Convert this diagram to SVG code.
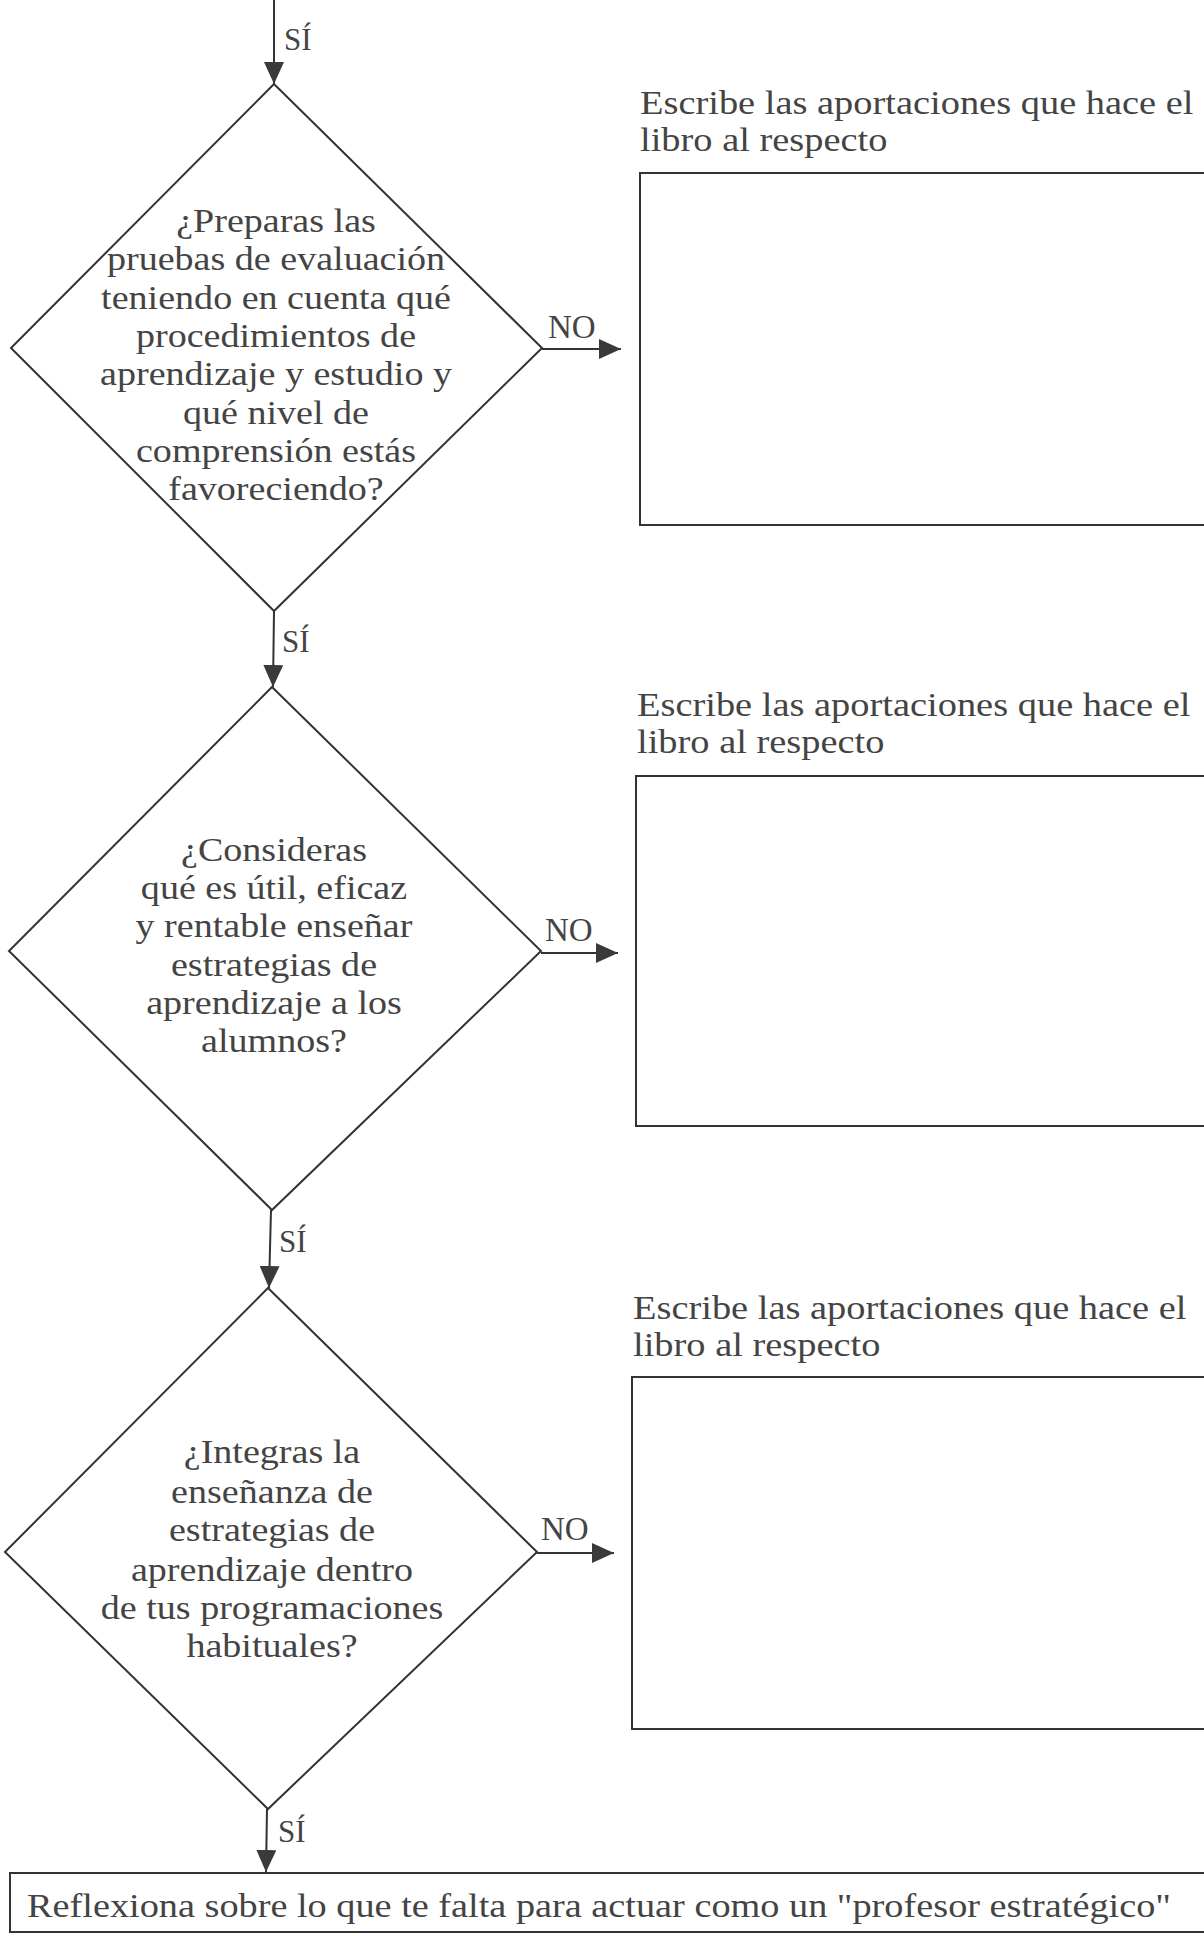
<svg xmlns="http://www.w3.org/2000/svg" width="1204" height="1936" viewBox="0 0 1204 1936">
<defs>
<marker id="ah" markerUnits="userSpaceOnUse" markerWidth="22" markerHeight="20" refX="22" refY="10" orient="auto">
<path d="M0,0 L22,10 L0,20 z" fill="#3a3a3a"/>
</marker>
<style>
.shape{fill:none;stroke:#333;stroke-width:2}
.conn{fill:none;stroke:#333;stroke-width:2;marker-end:url(#ah)}
text{font-family:"Liberation Serif","Times New Roman",serif;fill:#444}
.q{font-size:34px;text-anchor:middle}
.lbl{font-size:34px}
.yes{font-size:31px}
.no{font-size:33px}
.fin{font-size:33px}
</style>
</defs>
<rect x="0" y="0" width="1204" height="1936" fill="#ffffff"/>

<g id="connectors">
<line class="conn" x1="274" y1="0" x2="274" y2="84"/>
<line class="conn" x1="274" y1="611" x2="273" y2="687"/>
<line class="conn" x1="271" y1="1210" x2="269" y2="1288"/>
<line class="conn" x1="267" y1="1809" x2="266" y2="1872"/>
<line class="conn" x1="542" y1="349" x2="621" y2="349"/>
<line class="conn" x1="541" y1="953" x2="618" y2="953"/>
<line class="conn" x1="537" y1="1553" x2="614" y2="1553"/>
<text class="yes" x="284" y="50">SÍ</text>
<text class="yes" x="282" y="652">SÍ</text>
<text class="yes" x="279" y="1252">SÍ</text>
<text class="yes" x="278" y="1842">SÍ</text>
<text class="no" x="548" y="338">NO</text>
<text class="no" x="545" y="941">NO</text>
<text class="no" x="541" y="1540">NO</text>
</g>

<g id="decision1">
<polygon class="shape" points="274,84 542,348 274,611 11,348"/>
<g transform="translate(276 0) scale(1.12 1)">
<text class="q" x="0" y="232">¿Preparas las</text>
<text class="q" x="0" y="270">pruebas de evaluación</text>
<text class="q" x="0" y="309">teniendo en cuenta qué</text>
<text class="q" x="0" y="347">procedimientos de</text>
<text class="q" x="0" y="385">aprendizaje y estudio y</text>
<text class="q" x="0" y="424">qué nivel de</text>
<text class="q" x="0" y="462">comprensión estás</text>
<text class="q" x="0" y="500">favoreciendo?</text>
</g>
</g>

<g id="note1">
<g transform="translate(640 0) scale(1.13 1)">
<text class="lbl" x="0" y="114">Escribe las aportaciones que hace el</text>
<text class="lbl" x="0" y="151">libro al respecto</text>
</g>
<rect class="shape" x="640" y="173" width="580" height="352"/>
</g>

<g id="decision2">
<polygon class="shape" points="272,687 541,951 272,1210 9,951"/>
<g transform="translate(274 0) scale(1.12 1)">
<text class="q" x="0" y="861">¿Consideras</text>
<text class="q" x="0" y="899">qué es útil, eficaz</text>
<text class="q" x="0" y="937">y rentable enseñar</text>
<text class="q" x="0" y="976">estrategias de</text>
<text class="q" x="0" y="1014">aprendizaje a los</text>
<text class="q" x="0" y="1052">alumnos?</text>
</g>
</g>

<g id="note2">
<g transform="translate(637 0) scale(1.13 1)">
<text class="lbl" x="0" y="716">Escribe las aportaciones que hace el</text>
<text class="lbl" x="0" y="753">libro al respecto</text>
</g>
<rect class="shape" x="636" y="776" width="580" height="350"/>
</g>

<g id="decision3">
<polygon class="shape" points="268,1288 537,1552 268,1809 5,1552"/>
<g transform="translate(272 0) scale(1.12 1)">
<text class="q" x="0" y="1463">¿Integras la</text>
<text class="q" x="0" y="1503">enseñanza de</text>
<text class="q" x="0" y="1541">estrategias de</text>
<text class="q" x="0" y="1581">aprendizaje dentro</text>
<text class="q" x="0" y="1619">de tus programaciones</text>
<text class="q" x="0" y="1657">habituales?</text>
</g>
</g>

<g id="note3">
<g transform="translate(633 0) scale(1.13 1)">
<text class="lbl" x="0" y="1319">Escribe las aportaciones que hace el</text>
<text class="lbl" x="0" y="1356">libro al respecto</text>
</g>
<rect class="shape" x="632" y="1377" width="584" height="352"/>
</g>

<g id="final">
<rect class="shape" x="10" y="1873" width="1210" height="59"/>
<text class="fin" x="27" y="1917" textLength="1144" lengthAdjust="spacingAndGlyphs">Reflexiona sobre lo que te falta para actuar como un "profesor estratégico"</text>
</g>
</svg>
